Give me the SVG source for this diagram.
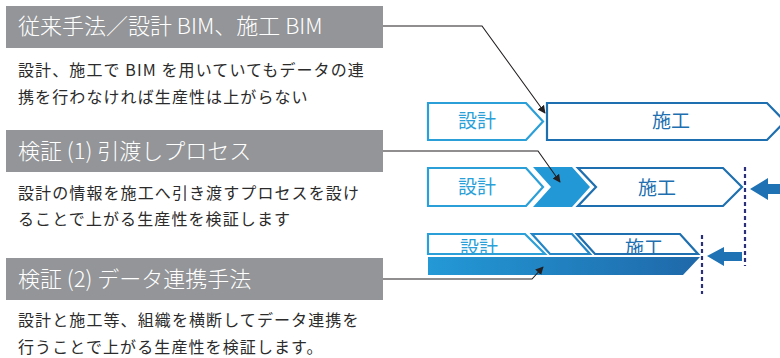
<svg xmlns="http://www.w3.org/2000/svg" width="780" height="358" viewBox="0 0 780 358">
<defs>
<style>
.hdr{fill:#939598}
.ht{font-family:"Noto Sans CJK JP","Noto Sans",sans-serif;font-size:22px;font-weight:300;fill:#ffffff}
.bt{font-family:"Noto Sans CJK JP","Noto Sans",sans-serif;font-size:16px;fill:#2b2b2b;letter-spacing:1.1px}
.con{fill:none;stroke:#231f20;stroke-width:1.1}
.o1{fill:#ffffff;stroke:#2a9fd8;stroke-width:2.2}
.o2{fill:#ffffff;stroke:#1e6fb0;stroke-width:2.2}
.o3{fill:#ffffff;stroke:#2486c6;stroke-width:2.2}
.t1{font-family:"Noto Sans CJK JP","Noto Sans",sans-serif;font-size:19px;fill:#2a9fd8;text-anchor:middle}
.t2{font-family:"Noto Sans CJK JP","Noto Sans",sans-serif;font-size:19px;fill:#1e6fb0;text-anchor:middle}
.dot{stroke:#2b2f78;stroke-width:2.2;stroke-dasharray:4 3;fill:none}
.arr{fill:#1f72b4}
</style>
<marker id="ah" viewBox="0 0 10 10" refX="9" refY="5" markerWidth="8" markerHeight="8" orient="auto" markerUnits="userSpaceOnUse">
<path d="M0,0 L10,5 L0,10 Z" fill="#231f20"/>
</marker>
<linearGradient id="gb" x1="0" y1="0" x2="1" y2="0">
<stop offset="0" stop-color="#2399d6"/>
<stop offset="1" stop-color="#1f68a9"/>
</linearGradient>
<clipPath id="cl"><rect x="420" y="230" width="300" height="23"/></clipPath>
</defs>

<g id="header1">
<rect class="hdr" x="6" y="6" width="377" height="42"/>
<text class="ht" x="18" y="34">従来手法／設計 BIM、施工 BIM</text>
<text class="bt" x="18" y="76">設計、施工で BIM を用いていてもデータの連</text>
<text class="bt" x="18" y="103">携を行わなければ生産性は上がらない</text>
</g>

<g id="header2">
<rect class="hdr" x="6" y="130" width="377" height="42"/>
<text class="ht" x="18" y="159">検証 (1) 引渡しプロセス</text>
<text class="bt" x="18" y="199">設計の情報を施工へ引き渡すプロセスを設け</text>
<text class="bt" x="18" y="225">ることで上がる生産性を検証します</text>
</g>

<g id="header3">
<rect class="hdr" x="6" y="258" width="377" height="42"/>
<text class="ht" x="18" y="287">検証 (2) データ連携手法</text>
<text class="bt" x="18" y="326">設計と施工等、組織を横断してデータ連携を</text>
<text class="bt" x="18" y="353">行うことで上がる生産性を検証します。</text>
</g>

<g id="row1">
<polygon class="o1" points="428,103 526,103 543,121.5 526,140 428,140"/>
<text class="t1" x="477" y="128">設計</text>
<polygon class="o2" points="547,103 767,103 785,121.5 767,140 547,140"/>
<text class="t2" x="671" y="128">施工</text>
</g>

<g id="row2">
<polygon class="o1" points="428,168 526,168 543,187 526,206 428,206"/>
<text class="t1" x="477" y="194">設計</text>
<polygon fill="#2398d6" points="533,167 572,167 590,187 572,207 533,207 551,187"/>
<polygon class="o2" points="578,168 723,168 742,187 723,206 578,206 596,187"/>
<text class="t2" x="657" y="195">施工</text>
<line class="dot" x1="745" y1="167" x2="745" y2="266"/>
<polygon class="arr" points="750,189 768,178 768,184 780,184 780,194 768,194 768,200"/>
</g>

<g id="row3">
<polygon class="o1" points="428,234 525,234 545,254 428,254"/>
<polygon class="o3" points="532,234 572,234 590,254 550,254"/>
<polygon class="o2" points="577,234 680,234 698,254 595,254"/>
<g clip-path="url(#cl)">
<text class="t1" x="479" y="255">設計</text>
<text class="t2" x="644" y="255">施工</text>
</g>
<polygon fill="url(#gb)" points="428,257 700,257 683,275 428,275"/>
<line class="dot" x1="702" y1="235" x2="702" y2="294"/>
<polygon class="arr" points="707,256 724,247 724,252 742,252 742,261 724,261 724,266"/>
</g>

<g id="connectors">
<polyline class="con" points="383,26 482,26 545,113" marker-end="url(#ah)"/>
<polyline class="con" points="383,151 538,151 560,182" marker-end="url(#ah)"/>
<polyline class="con" points="383,279 532,279 543,267" marker-end="url(#ah)"/>
</g>
</svg>
